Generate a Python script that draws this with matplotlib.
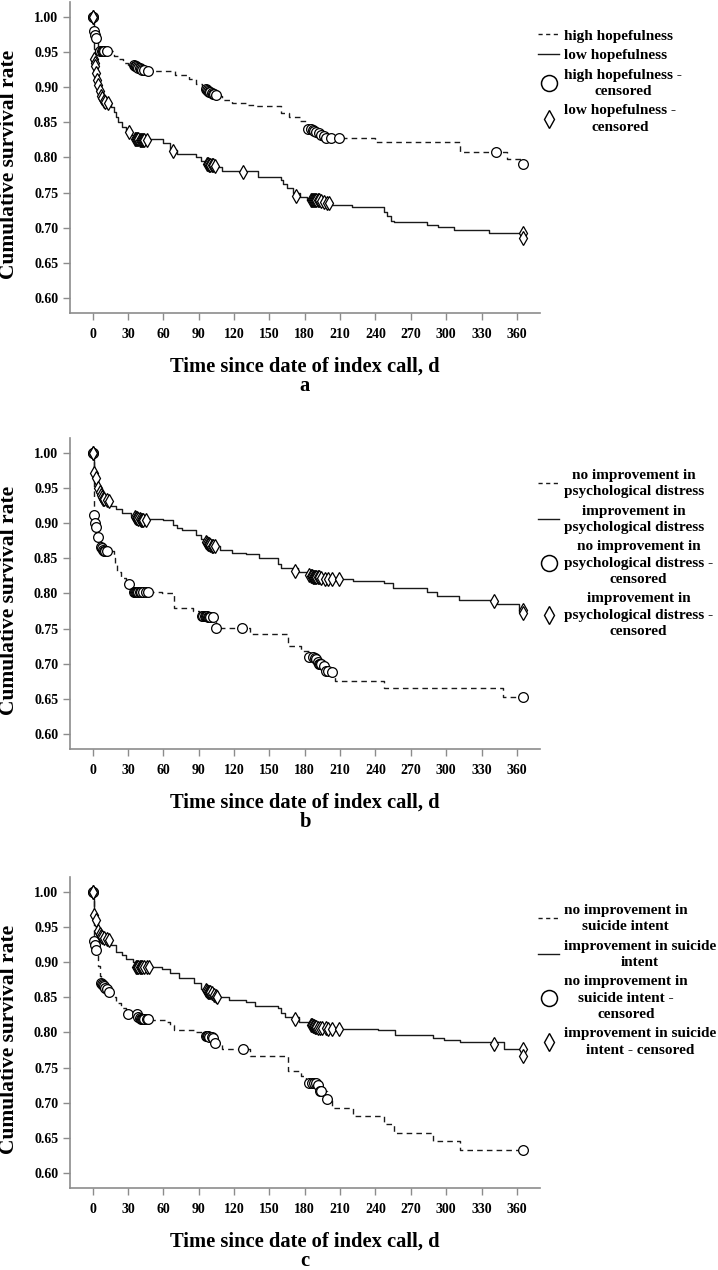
import matplotlib
matplotlib.use("Agg")
import matplotlib.pyplot as plt
from matplotlib.lines import Line2D

plt.rcParams["font.family"] = ["Liberation Serif", "DejaVu Serif"]
plt.rcParams["font.weight"] = "bold"

# ---------------- panel a: hopefulness ----------------
a_high_t = [0, 1, 2, 3, 5, 18, 22, 26, 30, 34, 40, 48, 70, 82, 88, 93, 97, 104, 110, 118,
            130, 138, 160, 167, 176, 181, 186, 192, 197, 240, 312, 352, 364, 365]
a_high_s = [1.0, 0.985, 0.978, 0.970, 0.951, 0.945, 0.940, 0.935, 0.932, 0.930, 0.926, 0.923,
            0.918, 0.912, 0.905, 0.898, 0.892, 0.888, 0.882, 0.878, 0.875, 0.873, 0.864, 0.858,
            0.852, 0.845, 0.840, 0.835, 0.828, 0.822, 0.808, 0.798, 0.791, 0.791]
a_high_cens_t = [0, 0, 1, 2, 3, 6, 8, 9, 10, 12, 35, 36, 37, 38, 39, 40, 41, 42, 44, 47,
                 96, 97, 98, 99, 100, 101, 102, 103, 105, 183, 185, 187, 188, 190, 192, 194,
                 196, 198, 202, 209, 342, 365]
a_high_cens_s = [1.0, 1.0, 0.980, 0.975, 0.970, 0.951, 0.951, 0.951, 0.951, 0.951, 0.932, 0.931,
                 0.930, 0.929, 0.928, 0.927, 0.926, 0.925, 0.924, 0.923, 0.897, 0.896, 0.895,
                 0.894, 0.893, 0.892, 0.891, 0.890, 0.889, 0.841, 0.840, 0.839, 0.838, 0.837,
                 0.835, 0.832, 0.830, 0.828, 0.828, 0.828, 0.808, 0.791]

a_low_t = [0, 1, 2, 3, 4, 5, 6, 7, 9, 12, 16, 18, 20, 22, 25, 28, 33, 36, 60, 66, 72, 88, 92,
           95, 106, 110, 140, 160, 162, 165, 170, 176, 182, 195, 203, 220, 247, 250, 253, 256,
           284, 293, 307, 336, 365]
a_low_s = [1.0, 0.955, 0.938, 0.925, 0.912, 0.902, 0.893, 0.887, 0.882, 0.878, 0.872, 0.865,
           0.858, 0.850, 0.843, 0.838, 0.832, 0.826, 0.820, 0.810, 0.805, 0.800, 0.795, 0.791,
           0.787, 0.781, 0.772, 0.768, 0.762, 0.756, 0.750, 0.744, 0.740, 0.736, 0.733, 0.729,
           0.722, 0.716, 0.710, 0.708, 0.704, 0.701, 0.697, 0.692, 0.692]
a_low_cens_t = [0, 0, 1, 2, 2.5, 3, 4, 5, 6, 7, 8, 10, 11, 13, 31, 36, 37, 38, 39, 40, 41, 42,
                43, 44, 46, 68, 97, 98, 99, 100, 101, 102, 104, 128, 173, 185, 186, 187, 188,
                189, 190, 191, 192, 194, 196, 199, 201, 365, 365]
a_low_cens_s = [1.0, 1.0, 0.940, 0.935, 0.930, 0.920, 0.910, 0.903, 0.895, 0.888, 0.885, 0.880,
                0.879, 0.878, 0.836, 0.826, 0.826, 0.826, 0.826, 0.825, 0.825, 0.825, 0.825,
                0.825, 0.825, 0.809, 0.791, 0.791, 0.790, 0.790, 0.789, 0.789, 0.788, 0.780,
                0.745, 0.740, 0.740, 0.740, 0.740, 0.740, 0.740, 0.739, 0.739, 0.738, 0.736,
                0.735, 0.735, 0.692, 0.685]

# ---------------- panel b: psychological distress ----------------
b_no_t = [0, 1, 2, 3, 5, 7, 9, 18, 19, 21, 24, 28, 34, 59, 69, 85, 90, 93, 105, 134, 166,
          177, 184, 190, 195, 200, 206, 247, 348, 365]
b_no_s = [1.0, 0.912, 0.900, 0.895, 0.880, 0.865, 0.860, 0.850, 0.840, 0.830, 0.822, 0.815,
          0.802, 0.800, 0.780, 0.775, 0.770, 0.768, 0.751, 0.742, 0.725, 0.718, 0.712, 0.705,
          0.698, 0.690, 0.676, 0.665, 0.652, 0.652]
b_no_cens_t = [0, 0, 1, 2, 3, 5, 7, 8, 9, 10, 11, 12, 31, 35, 36, 37, 38, 39, 40, 41, 43, 45,
               47, 93, 94, 95, 96, 97, 98, 99, 100, 102, 105, 127, 184, 187, 189, 190, 191, 192,
               193, 194, 196, 198, 200, 203, 365]
b_no_cens_s = [1.0, 1.0, 0.912, 0.900, 0.895, 0.880, 0.866, 0.865, 0.862, 0.861, 0.860, 0.860,
               0.813, 0.802, 0.802, 0.802, 0.802, 0.802, 0.802, 0.802, 0.802, 0.802, 0.802,
               0.768, 0.768, 0.768, 0.768, 0.768, 0.767, 0.767, 0.767, 0.767, 0.751, 0.751,
               0.710, 0.709, 0.708, 0.706, 0.703, 0.700, 0.700, 0.699, 0.697, 0.690, 0.689,
               0.688, 0.652]

b_imp_t = [0, 1, 3, 5, 7, 9, 13, 16, 20, 25, 33, 36, 60, 68, 72, 76, 88, 92, 95, 103, 108,
           118, 130, 141, 157, 160, 174, 182, 188, 198, 221, 247, 255, 284, 292, 311, 343,
           362, 365]
b_imp_s = [1.0, 0.972, 0.965, 0.950, 0.940, 0.935, 0.932, 0.925, 0.920, 0.915, 0.910, 0.906,
           0.904, 0.898, 0.893, 0.890, 0.884, 0.877, 0.872, 0.867, 0.862, 0.858, 0.856, 0.850,
           0.842, 0.836, 0.830, 0.826, 0.823, 0.821, 0.818, 0.815, 0.808, 0.802, 0.796, 0.791,
           0.785, 0.774, 0.774]
b_imp_cens_t = [0, 0, 1, 3, 5, 6, 7, 8, 9, 10, 12, 14, 36, 37, 38, 39, 40, 41, 42, 43, 45,
                96, 97, 98, 99, 100, 101, 102, 104, 172, 184, 185, 186, 187, 188, 189, 190,
                191, 192, 194, 197, 200, 203, 209, 341, 365, 365]
b_imp_cens_s = [1.0, 1.0, 0.972, 0.965, 0.950, 0.945, 0.940, 0.937, 0.935, 0.934, 0.933,
                0.932, 0.909, 0.908, 0.907, 0.906, 0.906, 0.905, 0.905, 0.904, 0.904, 0.873,
                0.872, 0.871, 0.870, 0.869, 0.868, 0.868, 0.867, 0.832, 0.826, 0.825, 0.825,
                0.824, 0.824, 0.823, 0.823, 0.823, 0.823, 0.822, 0.821, 0.821, 0.821, 0.821,
                0.789, 0.776, 0.772]

# ---------------- panel c: suicide intent ----------------
c_no_t = [0, 1, 2, 3, 5, 6, 7, 10, 13, 17, 20, 24, 28, 30, 38, 44, 62, 66, 69, 88, 96, 104,
          110, 134, 166, 177, 181, 188, 193, 199, 203, 221, 247, 256, 289, 312, 365]
c_no_s = [1.0, 0.930, 0.925, 0.918, 0.895, 0.880, 0.870, 0.865, 0.858, 0.850, 0.842, 0.835,
          0.830, 0.826, 0.822, 0.818, 0.815, 0.810, 0.803, 0.800, 0.795, 0.785, 0.776, 0.766,
          0.745, 0.738, 0.732, 0.728, 0.717, 0.705, 0.693, 0.681, 0.669, 0.657, 0.645, 0.632,
          0.632]
c_no_cens_t = [0, 0, 1, 2, 3, 7, 8, 9, 10, 11, 12, 14, 30, 38, 39, 40, 41, 42, 43, 44, 46, 47,
               96, 97, 98, 99, 101, 102, 104, 128, 184, 186, 188, 190, 191, 193, 194, 199, 365]
c_no_cens_s = [1.0, 1.0, 0.930, 0.925, 0.918, 0.870, 0.869, 0.868, 0.866, 0.864, 0.862, 0.858,
               0.826, 0.826, 0.822, 0.820, 0.819, 0.819, 0.819, 0.819, 0.819, 0.819, 0.795,
               0.795, 0.795, 0.794, 0.794, 0.792, 0.785, 0.776, 0.728, 0.728, 0.728, 0.728,
               0.725, 0.717, 0.717, 0.705, 0.632]

c_imp_t = [0, 1, 3, 5, 7, 9, 13, 16, 20, 25, 28, 34, 37, 59, 66, 73, 86, 92, 98, 102, 106,
           116, 130, 138, 157, 160, 163, 175, 184, 192, 200, 242, 257, 289, 298, 312, 349, 365]
c_imp_s = [1.0, 0.967, 0.960, 0.945, 0.938, 0.935, 0.932, 0.925, 0.915, 0.910, 0.905, 0.900,
           0.893, 0.890, 0.885, 0.877, 0.870, 0.862, 0.858, 0.853, 0.850, 0.847, 0.843, 0.838,
           0.835, 0.828, 0.822, 0.815, 0.810, 0.807, 0.805, 0.804, 0.797, 0.792, 0.790, 0.786,
           0.776, 0.776]
c_imp_cens_t = [0, 0, 1, 3, 5, 6, 7, 8, 10, 12, 14, 37, 38, 39, 40, 41, 42, 44, 46, 48, 96,
                97, 98, 99, 100, 101, 103, 105, 106, 172, 185, 186, 187, 188, 189, 190, 191,
                193, 195, 198, 200, 203, 209, 341, 365, 365]
c_imp_cens_s = [1.0, 1.0, 0.967, 0.960, 0.945, 0.940, 0.937, 0.936, 0.935, 0.933, 0.932,
                0.894, 0.893, 0.893, 0.893, 0.893, 0.893, 0.893, 0.893, 0.893, 0.860, 0.859,
                0.858, 0.857, 0.857, 0.856, 0.854, 0.852, 0.851, 0.819, 0.810, 0.810, 0.809,
                0.809, 0.808, 0.808, 0.807, 0.807, 0.806, 0.806, 0.805, 0.805, 0.805, 0.783,
                0.777, 0.766]

x_ticks = list(range(0, 361, 30))
y_ticks = [0.60, 0.65, 0.70, 0.75, 0.80, 0.85, 0.90, 0.95, 1.00]

panels = [
    dict(top=2, letter="a",
         dashed=(a_high_t, a_high_s, a_high_cens_t, a_high_cens_s),
         solid=(a_low_t, a_low_s, a_low_cens_t, a_low_cens_s),
         labels=["high hopefulness", "low hopefulness",
                 "high hopefulness -\ncensored", "low hopefulness -\ncensored"],
         leg_top=29),
    dict(top=438, letter="b",
         dashed=(b_no_t, b_no_s, b_no_cens_t, b_no_cens_s),
         solid=(b_imp_t, b_imp_s, b_imp_cens_t, b_imp_cens_s),
         labels=["no improvement in\npsychological distress",
                 "improvement in\npsychological distress",
                 "no improvement in\npsychological distress -\ncensored",
                 "improvement in\npsychological distress -\ncensored"],
         leg_top=469),
    dict(top=877, letter="c",
         dashed=(c_no_t, c_no_s, c_no_cens_t, c_no_cens_s),
         solid=(c_imp_t, c_imp_s, c_imp_cens_t, c_imp_cens_s),
         labels=["no improvement in\nsuicide intent",
                 "improvement in suicide\nintent",
                 "no improvement in\nsuicide intent -\ncensored",
                 "improvement in suicide\nintent - censored"],
         leg_top=904),
]

W, H = 718, 1270
fig = plt.figure(figsize=(W / 100, H / 100), dpi=100)

ax_left, ax_right, ax_h = 70, 540, 311
line_col = "#1a1a1a"
spine_col = "#8c8c8c"

for p in panels:
    top = p["top"]
    bot = top + ax_h
    ax = fig.add_axes([ax_left / W, 1 - bot / H, (ax_right - ax_left) / W, ax_h / H])

    t, s, ct, cs = p["dashed"]
    ax.step(t, s, where="post", color=line_col, lw=1.0, ls=(0, (4, 3)))
    t2, s2, ct2, cs2 = p["solid"]
    ax.step(t2, s2, where="post", color=line_col, lw=1.0)

    ax.plot(ct, cs, ls="none", marker="o", ms=7, mfc="white", mec="black", mew=0.9)
    ax.plot(ct2, cs2, ls="none", marker="d", ms=7.5, mfc="white", mec="black", mew=0.9)

    ax.set_xlim(-19.1, 379.6)
    ax.set_ylim(0.5785, 1.0215)
    ax.set_xticks(x_ticks)
    ax.set_yticks(y_ticks)
    ax.set_yticklabels([f"{v:.2f}" for v in y_ticks])
    for side in ["top", "right"]:
        ax.spines[side].set_visible(False)
    for side in ["left", "bottom"]:
        ax.spines[side].set_color(spine_col)
        ax.spines[side].set_linewidth(1.2)
    ax.tick_params(axis="both", colors=spine_col, labelcolor="black",
                   labelsize=10, length=5, width=1, direction="out")
    ax.tick_params(axis="x", pad=6)
    for lab in ax.get_xticklabels() + ax.get_yticklabels():
        lab.set_fontweight("bold")

    cx = (ax_left + ax_right) / 2 / W
    fig.text(cx, 1 - (bot + 54) / H, "Time since date of index call, d",
             ha="center", va="center", fontsize=14.8, fontweight="bold")
    fig.text(cx, 1 - (bot + 73) / H, p["letter"],
             ha="center", va="center", fontsize=14.8, fontweight="bold")
    fig.text(9 / W, 1 - (top + ax_h / 2 + 7) / H, "Cumulative survival rate",
             rotation=90, ha="center", va="center", fontsize=15.5, fontweight="bold")

    handles = [
        Line2D([], [], color=line_col, lw=1.0, ls=(0, (3, 2.5))),
        Line2D([], [], color=line_col, lw=1.0),
        Line2D([], [], ls="none", marker="o", ms=11.5, mfc="white", mec="black", mew=1.1),
        Line2D([], [], ls="none", marker="d", ms=9, mfc="white", mec="black", mew=1.0),
    ]
    leg = fig.legend(handles, p["labels"], loc="upper left",
                     bbox_to_anchor=(538 / W, 1 - p["leg_top"] / H),
                     bbox_transform=fig.transFigure, frameon=False,
                     prop={"size": 11, "weight": "bold"},
                     handlelength=1.4, handletextpad=0.3, labelspacing=0.4,
                     borderpad=0, borderaxespad=0)
    for txt in leg.get_texts():
        txt.set_multialignment("center")
        txt.set_linespacing(1.35)

fig.savefig("out.png", dpi=100)
